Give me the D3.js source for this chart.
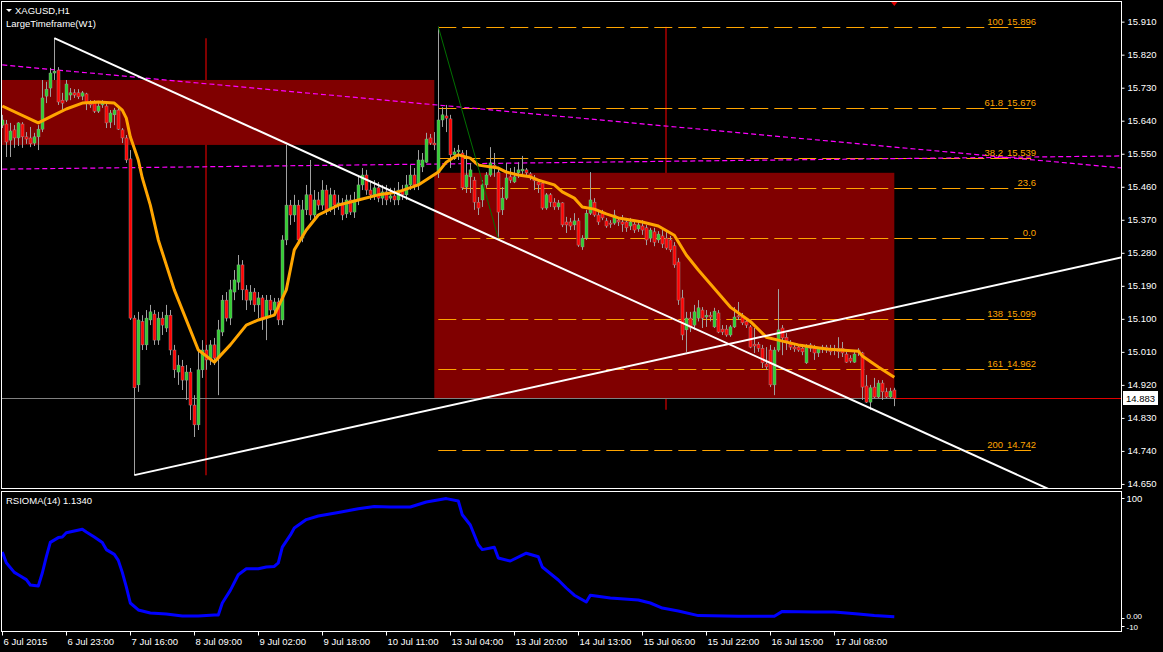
<!DOCTYPE html>
<html>
<head>
<meta charset="utf-8">
<script src="https://cdn.jsdelivr.net/npm/d3@7/dist/d3.min.js"></script>
<style>
body { margin: 0; background: #000; }
svg { display: block; }
text { font-family: "Liberation Sans", Arial, sans-serif; font-size: 9.5px; fill: #fff; }
</style>
</head>
<body>
<script>
// XAGUSD H1 candles, bar 0 = 6 Jul 2015 07:00
var opens = [
15.628,15.631,15.587,15.615,15.593,15.631,15.596,15.593,15.579,15.596,
15.617,15.707,15.729,15.770,15.778,15.696,15.696,15.710,15.716,15.716,
15.707,15.713,15.688,15.688,15.666,15.683,15.680,15.636,15.656,15.669,
15.615,15.593,15.536,15.102,14.920,15.093,15.029,15.097,15.113,15.042,
15.102,15.075,15.110,15.015,14.955,14.971,14.933,14.955,14.865,14.811,
14.961,15.015,14.988,15.029,14.993,15.064,15.151,15.102,15.173,15.200,
15.247,15.179,15.151,15.173,15.138,15.157,15.102,15.151,15.124,15.146,
15.097,15.315,15.410,15.383,15.410,15.320,15.397,15.438,15.383,15.424,
15.410,15.451,15.397,15.438,15.410,15.416,15.386,15.424,15.391,15.424,
15.465,15.492,15.451,15.438,15.457,15.429,15.446,15.429,15.435,15.424,
15.451,15.438,15.465,15.492,15.465,15.514,15.527,15.593,15.579,15.498,
15.642,15.653,15.645,15.547,15.555,15.552,15.459,15.487,15.478,15.418,
15.424,15.465,15.492,15.519,15.500,15.397,15.429,15.487,15.473,15.498,
15.503,15.506,15.495,15.484,15.473,15.470,15.402,15.438,15.418,15.405,
15.416,15.364,15.364,15.356,15.367,15.296,15.320,15.388,15.418,15.383,
15.388,15.367,15.361,15.361,15.369,15.364,15.364,15.353,15.358,15.345,
15.353,15.348,15.320,15.337,15.315,15.326,15.320,15.315,15.299,15.255,
15.157,15.070,15.102,15.083,15.102,15.124,15.105,15.110,15.078,15.116,
15.072,15.072,15.056,15.078,15.108,15.105,15.093,15.078,15.031,15.031,
15.020,14.977,15.015,14.920,15.015,15.075,15.050,15.031,15.023,15.023,
15.020,14.980,15.029,15.020,15.007,15.023,15.023,15.020,15.020,15.020,
15.020,15.004,14.993,14.982,15.015,15.007,14.917,14.873,14.914,14.887,
14.925,14.901,14.887,14.906
];
var highs = [
15.656,15.642,15.634,15.628,15.636,15.636,15.609,15.623,15.607,15.628,
15.751,15.746,15.784,15.865,15.786,15.716,15.751,15.729,15.726,15.726,
15.721,15.716,15.696,15.696,15.688,15.696,15.688,15.669,15.675,15.677,
15.620,15.601,15.560,15.110,15.119,15.110,15.124,15.138,15.124,15.119,
15.119,15.138,15.124,15.029,15.001,14.988,14.974,14.966,14.892,15.015,
15.042,15.029,15.042,15.048,15.097,15.165,15.173,15.206,15.233,15.274,
15.260,15.192,15.192,15.184,15.173,15.165,15.165,15.165,15.157,15.157,
15.328,15.574,15.424,15.438,15.424,15.424,15.465,15.533,15.451,15.446,
15.478,15.465,15.457,15.451,15.438,15.429,15.438,15.438,15.446,15.492,
15.511,15.506,15.473,15.478,15.473,15.465,15.465,15.457,15.457,15.473,
15.465,15.492,15.519,15.511,15.560,15.552,15.607,15.604,15.609,15.896,
15.677,15.683,15.656,15.566,15.574,15.560,15.560,15.525,15.487,15.432,
15.478,15.500,15.568,15.552,15.514,15.459,15.525,15.511,15.514,15.527,
15.544,15.511,15.500,15.492,15.478,15.478,15.443,15.443,15.429,15.424,
15.418,15.378,15.375,15.388,15.375,15.328,15.397,15.500,15.429,15.397,
15.397,15.375,15.369,15.397,15.378,15.383,15.375,15.375,15.369,15.367,
15.369,15.356,15.348,15.348,15.339,15.342,15.337,15.326,15.309,15.266,
15.179,15.119,15.119,15.138,15.151,15.132,15.124,15.119,15.130,15.124,
15.083,15.083,15.083,15.132,15.146,15.116,15.102,15.083,15.075,15.037,
15.029,15.023,15.029,15.023,15.181,15.083,15.061,15.042,15.031,15.031,
15.031,15.031,15.034,15.029,15.023,15.029,15.029,15.029,15.029,15.050,
15.037,15.010,15.001,15.010,15.020,15.010,14.947,14.920,14.939,14.933,
14.933,14.912,14.912,14.912
];
var lows = [
15.620,15.541,15.541,15.566,15.571,15.566,15.577,15.568,15.571,15.560,
15.609,15.688,15.705,15.751,15.683,15.669,15.691,15.696,15.702,15.699,
15.696,15.669,15.675,15.661,15.661,15.675,15.620,15.620,15.628,15.615,
15.579,15.525,15.097,14.674,14.901,15.015,15.015,15.083,15.029,15.029,
15.056,15.064,15.001,14.939,14.920,14.906,14.879,14.824,14.778,14.797,
14.939,14.961,14.974,14.974,14.892,15.053,15.093,15.083,15.151,15.179,
15.151,15.124,15.138,15.119,15.102,15.070,15.042,15.110,15.108,15.083,
15.083,15.301,15.356,15.364,15.301,15.309,15.383,15.369,15.375,15.397,
15.397,15.383,15.391,15.383,15.397,15.369,15.375,15.383,15.375,15.410,
15.451,15.438,15.424,15.424,15.418,15.410,15.410,15.418,15.410,15.410,
15.424,15.424,15.451,15.451,15.451,15.500,15.525,15.574,15.560,15.484,
15.623,15.609,15.511,15.533,15.533,15.451,15.443,15.443,15.397,15.383,
15.405,15.457,15.487,15.487,15.320,15.383,15.424,15.470,15.470,15.484,
15.492,15.487,15.478,15.451,15.443,15.397,15.397,15.405,15.397,15.397,
15.350,15.334,15.342,15.342,15.296,15.288,15.315,15.383,15.378,15.356,
15.369,15.348,15.348,15.356,15.353,15.337,15.337,15.342,15.334,15.337,
15.329,15.301,15.309,15.298,15.307,15.293,15.288,15.282,15.239,15.138,
15.042,15.010,15.064,15.070,15.093,15.075,15.078,15.093,15.075,15.061,
15.056,15.051,15.051,15.075,15.097,15.083,15.075,15.020,15.007,15.010,
14.966,14.961,14.914,14.892,15.010,15.001,15.015,15.015,15.010,15.010,
15.001,14.977,15.010,14.988,14.996,15.007,15.007,15.001,15.001,14.993,
14.996,14.980,14.980,14.980,14.999,14.879,14.871,14.852,14.884,14.884,
14.879,14.884,14.884,14.862
];
var closes = [
15.642,15.582,15.612,15.593,15.634,15.596,15.590,15.577,15.596,15.617,
15.702,15.726,15.770,15.775,15.691,15.688,15.740,15.716,15.710,15.705,
15.716,15.688,15.683,15.666,15.680,15.688,15.634,15.661,15.669,15.617,
15.593,15.533,15.102,14.912,15.097,15.029,15.102,15.119,15.042,15.102,
15.083,15.110,15.015,14.961,14.974,14.933,14.955,14.865,14.811,14.961,
15.015,14.988,15.029,14.993,15.070,15.151,15.102,15.179,15.206,15.247,
15.179,15.151,15.173,15.138,15.157,15.097,15.151,15.124,15.146,15.097,
15.315,15.410,15.383,15.410,15.315,15.397,15.438,15.383,15.424,15.410,
15.451,15.397,15.438,15.410,15.416,15.383,15.424,15.391,15.424,15.465,
15.492,15.451,15.438,15.457,15.429,15.446,15.424,15.435,15.424,15.451,
15.438,15.465,15.492,15.465,15.533,15.533,15.590,15.579,15.574,15.642,
15.656,15.647,15.547,15.555,15.560,15.457,15.492,15.506,15.418,15.402,
15.465,15.492,15.525,15.511,15.391,15.429,15.484,15.478,15.487,15.506,
15.508,15.498,15.484,15.476,15.465,15.402,15.438,15.418,15.405,15.416,
15.356,15.356,15.353,15.367,15.301,15.320,15.388,15.424,15.383,15.364,
15.375,15.353,15.358,15.383,15.364,15.358,15.348,15.364,15.342,15.356,
15.342,15.315,15.342,15.309,15.331,15.304,15.293,15.288,15.247,15.151,
15.056,15.102,15.075,15.119,15.130,15.102,15.110,15.105,15.121,15.064,
15.064,15.056,15.078,15.105,15.105,15.089,15.083,15.023,15.026,15.020,
14.980,14.969,14.920,15.015,15.070,15.048,15.040,15.023,15.018,15.015,
15.010,15.023,15.020,15.007,15.020,15.018,15.015,15.010,15.015,15.010,
15.007,14.982,14.985,15.004,15.010,14.914,14.873,14.912,14.887,14.925,
14.901,14.887,14.903,14.883
];

// orange moving average
var maBars = [0,9,13,16,20,24,28,30,31,32, 34,35,37,39,43,47,49,53,57,61,
  64,68,71,73,76,79,84,89,94,99, 104,109,111,113,114,117,119,124,126,129,
  132,134,138,140,143,145,148,151,154,160, 164,168,171,174,182,187,191,194,199,206,
  214,215,219,223];
var maValues = [15.680,15.634,15.656,15.672,15.688,15.691,15.688,15.669,15.647,15.596,
  15.533,15.484,15.410,15.315,15.179,15.070,15.015,14.982,15.029,15.083,
  15.097,15.110,15.179,15.288,15.342,15.383,15.410,15.424,15.438,15.446,
  15.465,15.500,15.527,15.541,15.547,15.538,15.519,15.511,15.500,15.492,
  15.487,15.478,15.465,15.446,15.429,15.405,15.399,15.386,15.375,15.364,
  15.353,15.328,15.274,15.233,15.132,15.093,15.050,15.042,15.029,15.018,
  15.012,14.999,14.969,14.941];

// RSIOMA(14)
var rsiBars = [0,1,3,4,6,7,9,10,11,12, 14,15,16,18,20,21,23,25,26,28,
  29,30,31,32,34,37,41,45,49,53, 54,55,57,59,61,64,66,68,69,70,
  72,73,76,79,84,89,93,97,102,106, 111,114,115,117,119,120,123,124,127,131,
  134,135,139,141,143,146,147,152,159,162, 165,169,174,184,193,195,203,208,214,218,
  223];
var rsiValues = [55,46,38,36,32,27.5,26.7,37.5,51,63, 67,67.5,71,72.5,74,71.7,67.5,63,57,53,
  48,38,26,12.5,6.7,4.2,3.3,1.7,1.7,2.5, 2.5,12.5,23,36,41,41,42.5,43,46,59,
  69,75,82,85,88,91,93,92.5,92.5,96.7, 99.5,97.5,86,77.5,61,57,59,50,47.5,54,
  51,42.5,31.7,25,19,13.3,19,16.7,15,12.5, 8.3,5.8,2,1.5,1.5,5.5,5,5,3.3,2,
  1.134];

// LargeTimeframe(W1) weekly candles
var weekStart = [-6, 108];
var weekEnd = [108, 223];
var weekMid = [51, 166];
var weekOpen = [15.751, 15.498];
var weekHigh = [15.865, 15.896];
var weekLow = [14.674, 14.852];
var weekClose = [15.574, 14.882];

// Fibonacci
var fibLevels = ["100", "61.8", "38.2", "23.6", "0.0", "138", "161", "200"];
var fibPrices = [15.896, 15.676, 15.539, 15.456, 15.320, 15.099, 14.962, 14.742];
var fibShowPrice = [true, true, true, false, false, true, true, true];
var fibAnchors = [[109, 15.896], [124, 15.320]];
var fibEndBar = 257.2;

// trend lines [bar, price]
var trendDown = [[13, 15.865], [262, 14.634]];
var trendUp = [[33, 14.674], [280, 15.268]];
var magentaA = [[0, 15.792], [280, 15.511]];
var magentaB = [[0, 15.508], [280, 15.544]];

var lastPrice = 14.883;
var priceTicks = [15.910, 15.820, 15.730, 15.640, 15.550, 15.460, 15.370, 15.280, 15.190, 15.100, 15.010, 14.920, 14.830, 14.740, 14.650];
var timeTickBars = [0, 16, 32, 48, 64, 80, 96, 112, 128, 144, 160, 176, 192, 208];
var timeLabels = ["6 Jul 2015", "6 Jul 23:00", "7 Jul 16:00", "8 Jul 09:00", "9 Jul 02:00", "9 Jul 18:00", "10 Jul 11:00",
  "13 Jul 04:00", "13 Jul 20:00", "14 Jul 13:00", "15 Jul 06:00", "15 Jul 22:00", "16 Jul 15:00", "17 Jul 08:00"];
var rsiTicks = [100, 0, -10];
var rsiTickLabels = ["100", "0.00", "-10"];

var width = 1163, height = 652;
var frameR = 1121.5;
var mainTop = 1.5, mainBot = 488.5, subTop = 491.5, subBot = 631.5;

var x = d3.scaleLinear().domain([0, 280]).range([2.3, 1122.3]);
var y = d3.scaleLinear().domain([14.650, 15.910]).range([483.95, 21.65]);
var yr = d3.scaleLinear().domain([-10, 100]).range([630, 498]);

var svg = d3.select("body").append("svg")
  .attr("width", width).attr("height", height)
  .style("background", "#000");

var defs = svg.append("defs");
defs.append("clipPath").attr("id", "clipMain").append("rect")
  .attr("x", 2).attr("y", 2).attr("width", frameR - 2).attr("height", mainBot - 2);
defs.append("clipPath").attr("id", "clipSub").append("rect")
  .attr("x", 2).attr("y", subTop + 0.5).attr("width", frameR - 2).attr("height", subBot - subTop - 1);

var plot = svg.append("g").attr("clip-path", "url(#clipMain)");

// weekly candles (background)
var weeks = d3.range(weekStart.length);
plot.selectAll(".wbody").data(weeks).enter().append("rect")
  .attr("x", function(i) { return x(weekStart[i]); })
  .attr("width", function(i) { return x(weekEnd[i]) - x(weekStart[i]); })
  .attr("y", function(i) { return y(Math.max(weekOpen[i], weekClose[i])); })
  .attr("height", function(i) { return Math.abs(y(weekOpen[i]) - y(weekClose[i])); })
  .attr("fill", "#800000");
plot.selectAll(".wwick").data(weeks).enter().append("line")
  .attr("x1", function(i) { return Math.round(x(weekMid[i])); })
  .attr("x2", function(i) { return Math.round(x(weekMid[i])); })
  .attr("y1", function(i) { return y(weekHigh[i]); })
  .attr("y2", function(i) { return y(weekLow[i]); })
  .attr("stroke", "#800000").attr("stroke-width", 2);

// fibo levels
plot.selectAll(".fib").data(fibPrices).enter().append("line")
  .attr("x1", x(fibAnchors[0][0])).attr("x2", x(fibEndBar))
  .attr("y1", function(d) { return Math.round(y(d)) + 0.5; })
  .attr("y2", function(d) { return Math.round(y(d)) + 0.5; })
  .attr("stroke", "#ffa500").attr("stroke-dasharray", "18,6");

// magenta dashed lines
var lineGen = d3.line().x(function(d) { return x(d[0]); }).y(function(d) { return y(d[1]); });
[magentaA, magentaB].forEach(function(l) {
  plot.append("path").attr("d", lineGen(l))
    .attr("fill", "none").attr("stroke", "#ff00ff").attr("stroke-width", 1.2)
    .attr("stroke-dasharray", "5,3");
});

// current price line
plot.append("line")
  .attr("x1", 0).attr("x2", frameR)
  .attr("y1", Math.round(y(lastPrice)) + 0.5).attr("y2", Math.round(y(lastPrice)) + 0.5)
  .attr("stroke", "#808080").attr("stroke-width", 1);
plot.append("line")
  .attr("x1", x(weekEnd[1])).attr("x2", frameR)
  .attr("y1", Math.round(y(lastPrice)) + 0.5).attr("y2", Math.round(y(lastPrice)) + 0.5)
  .attr("stroke", "#e00000").attr("stroke-width", 1);

// candles
var bars = d3.range(closes.length);
var candle = plot.selectAll(".c").data(bars).enter().append("g");
candle.append("line")
  .attr("x1", function(i) { return Math.round(x(i)) + 0.5; })
  .attr("x2", function(i) { return Math.round(x(i)) + 0.5; })
  .attr("y1", function(i) { return y(highs[i]); })
  .attr("y2", function(i) { return y(lows[i]); })
  .attr("stroke", "#a0a0a0");
candle.append("rect")
  .attr("x", function(i) { return Math.round(x(i)) - 1; })
  .attr("width", 3)
  .attr("y", function(i) { return y(Math.max(opens[i], closes[i])); })
  .attr("height", function(i) { return Math.max(1, Math.abs(y(opens[i]) - y(closes[i]))); })
  .attr("fill", function(i) {
    if (Math.abs(opens[i] - closes[i]) < 0.002) return "#a0a0a0";
    return closes[i] > opens[i] ? "#32cd32" : "#ff0000";
  })
  .attr("stroke", "#a0a0a0").attr("stroke-width", 0.4);

// moving average
var maPts = maBars.map(function(b, i) { return [b, maValues[i]]; });
plot.append("path").attr("d", lineGen(maPts))
  .attr("fill", "none").attr("stroke", "#ffa500").attr("stroke-width", 3)
  .attr("stroke-linejoin", "round");

// white trend lines (rays)
function ray(l, toBar) {
  var s = (l[1][1] - l[0][1]) / (l[1][0] - l[0][0]);
  return [l[0], [toBar, l[0][1] + s * (toBar - l[0][0])]];
}
[ray(trendDown, 300), ray(trendUp, 300)].forEach(function(l) {
  plot.append("path").attr("d", lineGen(l))
    .attr("fill", "none").attr("stroke", "#fff").attr("stroke-width", 2);
});

// fibo anchor line
plot.append("path").attr("d", lineGen(fibAnchors))
  .attr("fill", "none").attr("stroke", "#007000").attr("stroke-width", 1);

// fibo labels
var fibText = svg.append("g");
fibPrices.forEach(function(p, i) {
  var ty = Math.round(y(p)) - 2;
  if (fibShowPrice[i]) {
    fibText.append("text").attr("x", 1036).attr("y", ty).attr("text-anchor", "end")
      .style("fill", "#ffa500").text(d3.format(".3f")(p));
    fibText.append("text").attr("x", 1003).attr("y", ty).attr("text-anchor", "end")
      .style("fill", "#ffa500").text(fibLevels[i]);
  } else {
    fibText.append("text").attr("x", 1036).attr("y", ty).attr("text-anchor", "end")
      .style("fill", "#ffa500").text(fibLevels[i]);
  }
});

// red marker at top
svg.append("path")
  .attr("d", "M" + (x(223) - 4) + ",1L" + (x(223) + 4) + ",1L" + x(223) + ",6Z")
  .attr("fill", "#e00000");

// RSIOMA panel
var sub = svg.append("g").attr("clip-path", "url(#clipSub)");
var rsiPts = rsiBars.map(function(b, i) { return [b, rsiValues[i]]; });
sub.append("path")
  .attr("d", d3.line().x(function(d) { return x(d[0]); }).y(function(d) { return yr(d[1]); })(rsiPts))
  .attr("fill", "none").attr("stroke", "#0000ff").attr("stroke-width", 3)
  .attr("stroke-linejoin", "round");

// frames
svg.append("rect").attr("x", 1.5).attr("y", mainTop).attr("width", frameR - 1.5).attr("height", mainBot - mainTop)
  .attr("fill", "none").attr("stroke", "#fff");
svg.append("rect").attr("x", 1.5).attr("y", subTop).attr("width", frameR - 1.5).attr("height", subBot - subTop)
  .attr("fill", "none").attr("stroke", "#fff");

// price axis
var yAxis = d3.axisRight(y).tickValues(priceTicks).tickSize(3).tickPadding(3)
  .tickFormat(d3.format(".3f")).tickSizeOuter(0);
var ya = svg.append("g").attr("transform", "translate(" + frameR + ",0)").call(yAxis);
ya.select(".domain").remove();
ya.selectAll("line").attr("stroke", "#fff");
ya.selectAll("text").attr("fill", "#fff").style("font-size", "9.5px");

// last price label
var ly = Math.round(y(lastPrice));
svg.append("rect").attr("x", 1123).attr("y", ly - 7).attr("width", 35).attr("height", 14).attr("fill", "#fff");
svg.append("text").attr("x", 1126).attr("y", ly + 3.5).style("fill", "#000").text(d3.format(".3f")(lastPrice));

// RSIOMA axis
var rsiLabelY = [yr(100) + 3.5, 619, 629.5];
rsiTicks.forEach(function(v, i) {
  var ty = v === -10 ? 626 : yr(v);
  svg.append("line").attr("x1", frameR).attr("x2", frameR + 3).attr("y1", Math.round(ty) + 0.5).attr("y2", Math.round(ty) + 0.5)
    .attr("stroke", "#fff");
  svg.append("text").attr("x", frameR + 5).attr("y", rsiLabelY[i])
    .style("font-size", i === 0 ? "9.5px" : "8px").text(rsiTickLabels[i]);
});

// time axis
var xa = svg.append("g");
timeTickBars.forEach(function(b, i) {
  var tx = Math.round(x(b)) + 0.5;
  xa.append("line").attr("x1", tx).attr("x2", tx).attr("y1", subBot).attr("y2", subBot + 4).attr("stroke", "#fff");
  xa.append("text").attr("x", tx + 1).attr("y", 645).text(timeLabels[i]);
});

// titles
svg.append("path").attr("d", "M6,9L12,9L9,12Z").attr("fill", "#fff");
svg.append("text").attr("x", 15).attr("y", 14).text("XAGUSD,H1");
svg.append("text").attr("x", 6).attr("y", 27).text("LargeTimeframe(W1)");
svg.append("text").attr("x", 6).attr("y", 504).text("RSIOMA(14) 1.1340");
</script>
</body>
</html>
